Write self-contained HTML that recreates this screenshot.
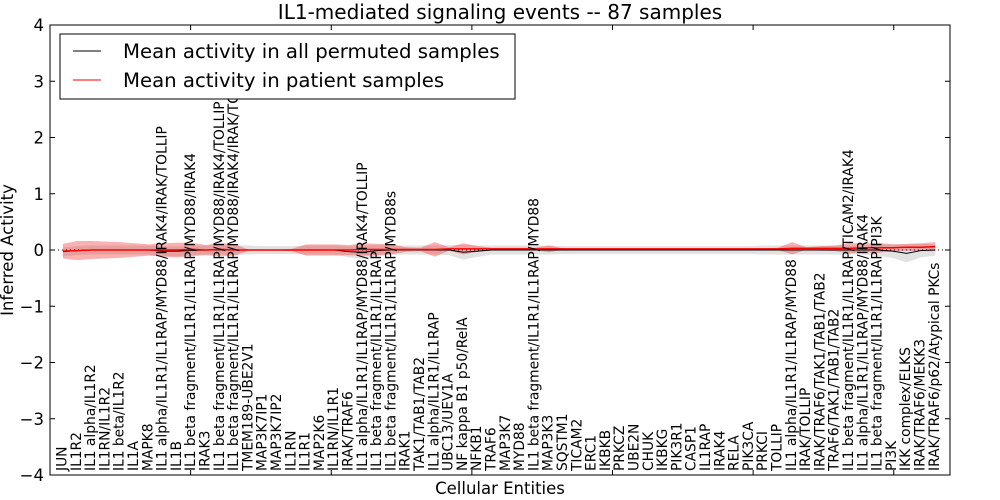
<!DOCTYPE html>
<html><head><meta charset="utf-8"><style>
body{margin:0;background:#fff}
svg{display:block;font-family:"DejaVu Sans","Liberation Sans",sans-serif}
</style></head><body>
<svg id="chart" width="1000" height="500" viewBox="0 0 1000 500">
<rect width="1000" height="500" fill="#fff"/>
<text x="500" y="19" text-anchor="middle" font-size="20">IL1-mediated signaling events -- 87 samples</text>
<g id="bands"></g>
<g id="lines"></g>
<g id="xlabels"></g>
<g id="axes"></g>
<rect x="50" y="25" width="900" height="450" fill="none" stroke="#000" stroke-width="1"/>
<text x="13" y="250" font-size="16.5" text-anchor="middle" transform="rotate(-90 13 250)">Inferred Activity</text>
<text x="500" y="494" font-size="16.5" text-anchor="middle">Cellular Entities</text>
<g>
<rect x="60" y="34" width="455" height="65" fill="#fff" stroke="#000"/>
<line x1="73" y1="51" x2="101" y2="51" stroke="#000"/>
<text x="123" y="58" font-size="19.7">Mean activity in all permuted samples</text>
<line x1="73" y1="80" x2="101" y2="80" stroke="#f00"/>
<text x="123" y="87" font-size="19.7">Mean activity in patient samples</text>
</g>
</svg>
<script>
const categories=["JUN","IL1R2","IL1 alpha/IL1R2","IL1RN/IL1R2","IL1 beta/IL1R2","IL1A","MAPK8","IL1 alpha/IL1R1/IL1RAP/MYD88/IRAK4/IRAK/TOLLIP","IL1B","IL1 beta fragment/IL1R1/IL1RAP/MYD88/IRAK4","IRAK3","IL1 beta fragment/IL1R1/IL1RAP/MYD88/IRAK4/TOLLIP","IL1 beta fragment/IL1R1/IL1RAP/MYD88/IRAK4/IRAK/TOLLIP","TMEM189-UBE2V1","MAP3K7IP1","MAP3K7IP2","IL1RN","IL1R1","MAP2K6","IL1RN/IL1R1","IRAK/TRAF6","IL1 alpha/IL1R1/IL1RAP/MYD88/IRAK4/TOLLIP","IL1 beta fragment/IL1R1/IL1RAP","IL1 beta fragment/IL1R1/IL1RAP/MYD88s","IRAK1","TAK1/TAB1/TAB2","IL1 alpha/IL1R1/IL1RAP","UBC13/UEV1A","NF kappa B1 p50/RelA","NFKB1","TRAF6","MAP3K7","MYD88","IL1 beta fragment/IL1R1/IL1RAP/MYD88","MAP3K3","SQSTM1","TICAM2","ERC1","IKBKB","PRKCZ","UBE2N","CHUK","IKBKG","PIK3R1","CASP1","IL1RAP","IRAK4","RELA","PIK3CA","PRKCI","TOLLIP","IL1 alpha/IL1R1/IL1RAP/MYD88","IRAK/TOLLIP","IRAK/TRAF6/TAK1/TAB1/TAB2","TRAF6/TAK1/TAB1/TAB2","IL1 beta fragment/IL1R1/IL1RAP/TICAM2/IRAK4","IL1 alpha/IL1R1/IL1RAP/MYD88/IRAK4","IL1 beta fragment/IL1R1/IL1RAP/PI3K","PI3K","IKK complex/ELKS","IRAK/TRAF6/MEKK3","IRAK/TRAF6/p62/Atypical PKCs"];
const permMean=[-0.03,-0.01,0.0,0.0,0.0,0.0,0.0,-0.02,-0.02,-0.01,0.0,0.0,0.0,0.0,0.0,0.0,0.0,0.0,0.0,0.0,-0.03,-0.04,-0.01,0.0,0.0,0.0,0.0,0.0,-0.04,-0.02,0.0,0.0,0.0,0.0,0.0,0.0,0.0,0.0,0.0,0.0,0.0,0.0,0.0,0.0,0.0,0.0,0.0,0.0,0.0,0.0,0.0,0.0,0.0,0.0,0.0,0.0,0.0,0.0,-0.02,-0.06,-0.01,0.0];
const permSd=[0.08,0.08,0.08,0.08,0.08,0.08,0.08,0.09,0.09,0.08,0.08,0.08,0.09,0.08,0.07,0.07,0.07,0.08,0.08,0.08,0.1,0.12,0.1,0.08,0.08,0.08,0.08,0.09,0.13,0.1,0.08,0.08,0.08,0.08,0.08,0.07,0.07,0.07,0.07,0.07,0.07,0.07,0.07,0.07,0.07,0.07,0.07,0.07,0.07,0.08,0.08,0.08,0.08,0.08,0.08,0.08,0.08,0.1,0.12,0.16,0.12,0.1];
const patMean=[-0.02,-0.01,0.0,0.0,0.0,0.0,0.0,0.0,0.0,0.01,0.0,0.01,0.0,0.0,0.0,0.0,0.0,0.0,0.0,0.0,0.0,0.01,0.01,0.01,0.01,0.01,0.01,0.02,0.02,0.02,0.02,0.02,0.02,0.02,0.02,0.02,0.02,0.02,0.02,0.02,0.02,0.02,0.02,0.02,0.02,0.02,0.02,0.02,0.02,0.02,0.02,0.03,0.03,0.03,0.03,0.03,0.04,0.04,0.04,0.05,0.05,0.06];
const patSd=[0.13,0.17,0.16,0.15,0.14,0.12,0.1,0.12,0.13,0.12,0.09,0.12,0.1,0.01,0.01,0.01,0.02,0.1,0.1,0.1,0.09,0.11,0.1,0.09,0.04,0.03,0.13,0.03,0.1,0.05,0.02,0.02,0.02,0.02,0.06,0.01,0.01,0.01,0.01,0.01,0.01,0.01,0.01,0.01,0.01,0.01,0.01,0.01,0.01,0.01,0.02,0.11,0.02,0.04,0.05,0.09,0.08,0.09,0.06,0.06,0.07,0.08];
const yTicks=[4,3,2,1,0,-1,-2,-3,-4];
const xTicks=[10,20,30,40,50,60];
const NS='http://www.w3.org/2000/svg';
function xPos(i){return 63+i*14.3;}
function xTickPos(v){return 50+v*14.0625;}
function yPos(v){return 250-v*56.25;}
function mk(tag,attrs,parent){const e=document.createElementNS(NS,tag);for(const k in attrs)e.setAttribute(k,attrs[k]);parent.appendChild(e);return e;}
const bands=document.getElementById('bands'),lines=document.getElementById('lines'),xl=document.getElementById('xlabels'),axes=document.getElementById('axes');
function band(mean,sd,fill,name){
  let up=mean.map((m,i)=>xPos(i)+','+yPos(m+sd[i]));
  let dn=mean.map((m,i)=>xPos(i)+','+yPos(m-sd[i])).reverse();
  const p=mk('polygon',{points:up.concat(dn).join(' '),fill:fill},bands);
  
  
}
band(permMean,permSd,'rgba(160,160,160,0.3)','permuted-band');
band(patMean,patSd,'rgba(240,60,60,0.4)','patient-band');
const dot=mk('line',{x1:50,x2:950,y1:yPos(0),y2:yPos(0),stroke:'#000','stroke-dasharray':'1,3','stroke-width':1},lines);


const pl=mk('polyline',{points:permMean.map((m,i)=>xPos(i)+','+yPos(m)).join(' '),fill:'none',stroke:'#000','stroke-width':1},lines);


const rl=mk('polyline',{points:patMean.map((m,i)=>xPos(i)+','+yPos(m)).join(' '),fill:'none',stroke:'#f00','stroke-width':1.5},lines);


categories.forEach((c,i)=>{
  const x=xPos(i)+3.5;
  const t=mk('text',{x:x,y:471,'font-size':13.8,transform:`rotate(-90 ${x} 471)`},xl);
  t.textContent=c;
  
  
});
yTicks.forEach(v=>{
  const y=yPos(v);
  const l=mk('line',{x1:50,x2:55,y1:y,y2:y,stroke:'#000'},axes);
  
  
  const r=mk('line',{x1:945,x2:950,y1:y,y2:y,stroke:'#000'},axes);
  
  
  const t=mk('text',{x:44,y:y+6,'text-anchor':'end','font-size':16.5},axes);
  t.textContent=v<0?'\u2212'+(-v):String(v);
  
  
});
xTicks.forEach(v=>{
  const x=xTickPos(v);
  const a=mk('line',{x1:x,x2:x,y1:25,y2:30,stroke:'#000'},axes);
  
  
  const b=mk('line',{x1:x,x2:x,y1:470,y2:475,stroke:'#000'},axes);
  
  
});
</script>
</body></html>
